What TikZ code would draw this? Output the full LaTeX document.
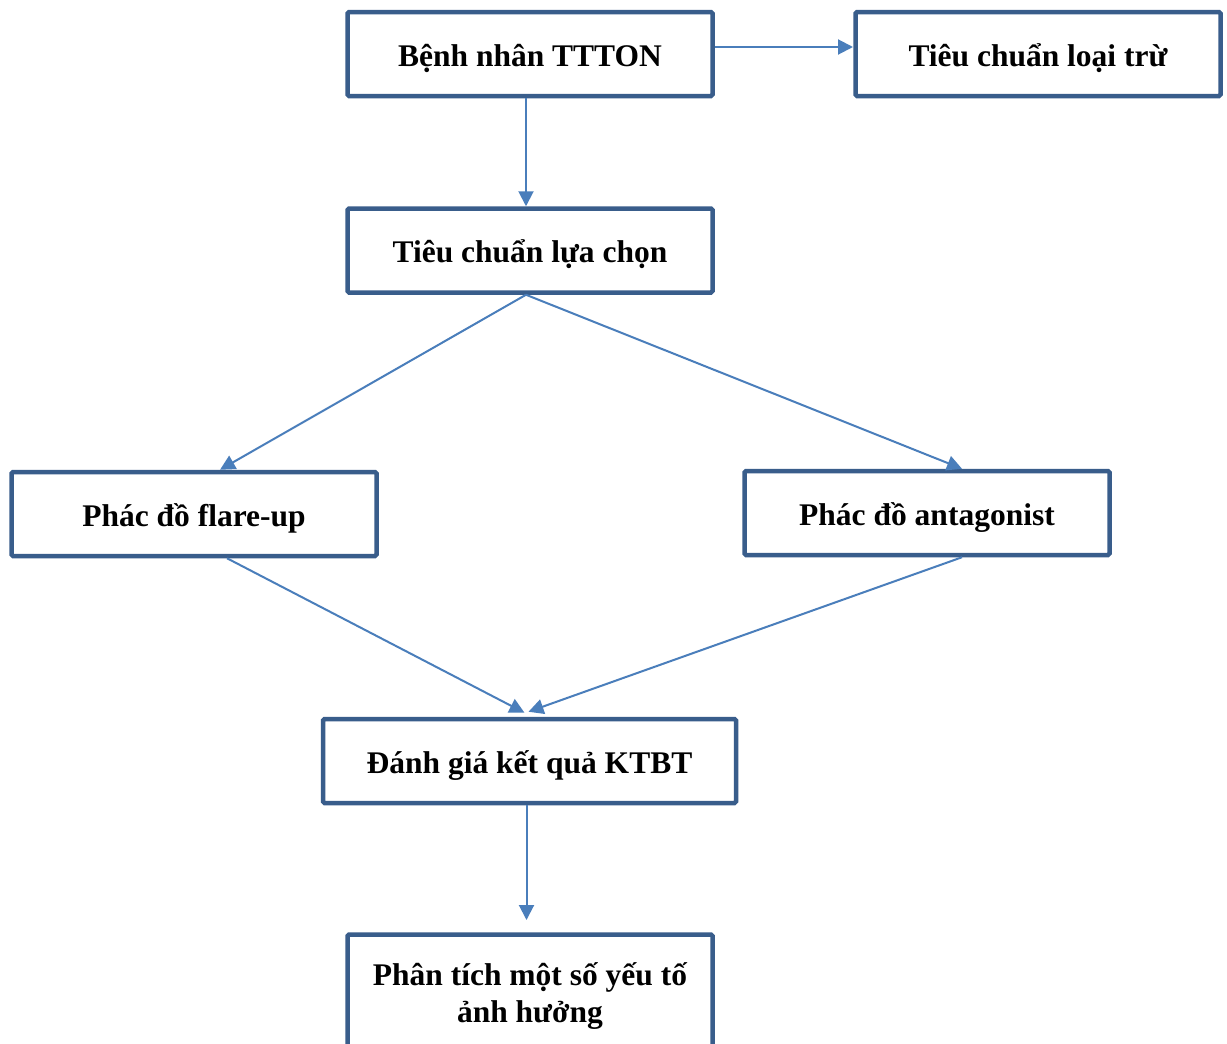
\documentclass[tikz,border=0pt]{standalone}
\usepackage{fontspec}
\setmainfont{Liberation Serif}
\usetikzlibrary{arrows.meta,calc}
\definecolor{boxc}{HTML}{395D8B}
\definecolor{arrc}{HTML}{4A7EBB}
\begin{document}
\begin{tikzpicture}[x=1pt,y=-1pt,
  box/.style={draw=boxc,line width=4.5pt,rounded corners=1.5pt,fill=white,
    minimum width=365pt,minimum height=84pt,inner sep=0pt,align=center,
    font=\fontsize{31.5}{37}\selectfont\bfseries},
  one/.style={text height=24pt,text depth=0pt},
  arr/.style={draw=arrc,line width=2pt,-{Triangle[length=15pt,width=15pt]}}]
\clip (0,0) rectangle (1227,1044);
\fill[white] (0,0) rectangle (1227,1044);
\node[box,one] (b) at (530,54) {Bệnh nhân TTTON};
\node[box,one] (l) at (1038,54) {Tiêu chuẩn loại trừ};
\node[box,one] (c) at (530,250.5) {Tiêu chuẩn lựa chọn};
\node[box,one] (f) at (194,514) {Phác đồ flare-up};
\node[box,one] (a) at (927,513) {Phác đồ antagonist};
\node[box,one,minimum width=413pt] (d) at (529.5,761) {Đánh giá kết quả KTBT};
\node[box,minimum height=123pt] (p) at (530,996) {Phân tích một số yếu tố\\ảnh hưởng};
\draw[arr] (b.east |- 0,47) -- (853,47);
\draw[arr] ([xshift=-4pt]b.south) -- ([xshift=-4pt]c.north);
\draw[arr] ([xshift=-4pt]c.south) -- ([xshift=26pt]f.north);
\draw[arr] ([xshift=-4pt]c.south) -- ([xshift=35pt]a.north);
\draw[arr] ([xshift=33pt]f.south) -- ([xshift=-5pt,yshift=4pt]d.north);
\draw[arr] ([xshift=35pt]a.south) -- ([xshift=-1pt,yshift=5pt]d.north);
\draw[arr] ([xshift=-3pt]d.south) -- (526.5,920);
\end{tikzpicture}
\end{document}
